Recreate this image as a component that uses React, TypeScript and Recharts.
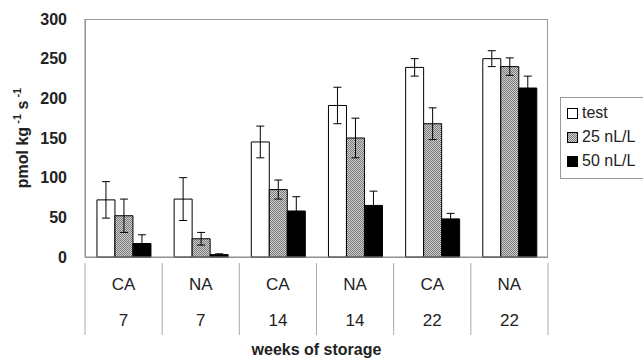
import { BarChart, Bar, XAxis, YAxis, ErrorBar, Legend } from 'recharts';

const conditions = ['CA', 'NA', 'CA', 'NA', 'CA', 'NA'];
const weeks = ['7', '7', '14', '14', '22', '22'];
const testVals = [72, 73, 145, 191, 239, 250];
const testErr = [23, 27, 20, 23, 11, 10];
const nl25Vals = [52, 23, 85, 150, 168, 240];
const nl25Err = [21, 8, 12, 25, 20, 11];
const nl50Vals = [17, 3, 58, 65, 48, 213];
const nl50Err = [11, 1, 18, 18, 7, 15];
const yTicks = [0, 50, 100, 150, 200, 250, 300];

const FONT = '"Liberation Sans", Arial, sans-serif';
const W = 643;
const H = 358;
const LEGEND_W = 92;
const PLOT_RIGHT_GAP = 95; // space right of the plot, legend included
const M = { top: 19, right: PLOT_RIGHT_GAP - LEGEND_W, bottom: 0, left: 35 };
const Y_W = 50;
const X_H = 101;
const PLOT_W = W - M.left - PLOT_RIGHT_GAP - Y_W;
const PLOT_H = H - M.top - M.bottom - X_H;
const AXIS_GRAY = '#8a8a8a';

const data = conditions.map((c, i) => ({
  key: `${c}-${weeks[i]}-${i}`,
  cond: c,
  week: weeks[i],
  test: testVals[i],
  testErr: testErr[i],
  nl25: nl25Vals[i],
  nl25Err: nl25Err[i],
  nl50: nl50Vals[i],
  nl50Err: nl50Err[i],
}));

const legendItems = [
  { label: 'test', fill: '#fff' },
  { label: '25 nL/L', fill: 'url(#lgdots)' },
  { label: '50 nL/L', fill: '#000' },
];

function Dots({ id }: { id: string }) {
  return (
    <pattern id={id} width={2} height={2} patternUnits="userSpaceOnUse">
      <rect width={2} height={2} fill="#cfcfcf" />
      <rect width={1} height={1} fill="#7a7a7a" />
      <rect x={1} y={1} width={1} height={1} fill="#7a7a7a" />
    </pattern>
  );
}

function XTick(props: any) {
  const { x, y, index } = props;
  const half = PLOT_W / conditions.length / 2;
  const d = data[index];
  return (
    <g>
      <line x1={x - half} y1={y} x2={x - half} y2={y + 72} stroke="#aaa" />
      {index === conditions.length - 1 && (
        <line x1={x + half} y1={y} x2={x + half} y2={y + 72} stroke="#aaa" />
      )}
      <text x={x} y={y + 27} textAnchor="middle" fontFamily={FONT} fontSize={17} fill="#222">
        {d.cond}
      </text>
      <text x={x} y={y + 63} textAnchor="middle" fontFamily={FONT} fontSize={17} fill="#222">
        {d.week}
      </text>
    </g>
  );
}

function YLabel() {
  return (
    <text
      transform="translate(28,138) rotate(-90)"
      textAnchor="middle"
      fontFamily={FONT}
      fontSize={16}
      fontWeight="bold"
      fill="#222"
    >
      pmol kg
      <tspan dy={-7} fontSize={11}> -1</tspan>
      <tspan dy={7}> s</tspan>
      <tspan dy={-7} fontSize={11}> -1</tspan>
    </text>
  );
}

function LegendBox() {
  return (
    <div
      style={{
        border: '1px solid #999',
        width: LEGEND_W,
        height: 82,
        boxSizing: 'border-box',
        padding: '3px 0 0 6px',
        fontFamily: FONT,
        fontSize: 16,
        color: '#222',
        background: '#fff',
      }}
    >
      {legendItems.map(it => (
        <div key={it.label} style={{ display: 'flex', alignItems: 'center', height: 24 }}>
          <svg width={11} height={11} style={{ marginRight: 4 }}>
            <defs>
              <Dots id="lgdots" />
            </defs>
            <rect x={0.5} y={0.5} width={10} height={10} fill={it.fill} stroke="#000" />
          </svg>
          {it.label}
        </div>
      ))}
    </div>
  );
}

export default function App() {
  return (
    <div style={{ position: 'absolute', left: 0, top: 0, width: W, height: H, background: '#fff' }}>
      <BarChart width={W} height={H} data={data} margin={M} barCategoryGap="15.5%" barGap={0}>
        <defs>
          <Dots id="dots" />
        </defs>
        {/* plot frame */}
        <rect
          x={M.left + Y_W + 0.5}
          y={M.top + 0.5}
          width={PLOT_W - 1}
          height={PLOT_H}
          fill="none"
          stroke="#999"
        />
        <XAxis
          dataKey="key"
          height={X_H}
          tickLine={false}
          tickMargin={0}
          interval={0}
          stroke={AXIS_GRAY}
          tick={<XTick />}
          label={{
            value: 'weeks of storage',
            position: 'insideBottom',
            offset: 3,
            style: { fontFamily: FONT, fontSize: 16, fontWeight: 'bold', fill: '#222' },
          }}
        />
        <YAxis
          domain={[0, 300]}
          ticks={yTicks}
          width={Y_W}
          tickLine={false}
          tickMargin={12}
          stroke={AXIS_GRAY}
          tick={{ fontFamily: FONT, fontSize: 16, fontWeight: 'bold', fill: '#222' }}
          label={<YLabel />}
        />
        <Legend
          layout="vertical"
          align="right"
          verticalAlign="top"
          wrapperStyle={{ left: 560, top: 97, width: LEGEND_W }}
          content={<LegendBox />}
        />
        <Bar dataKey="test" name="test" fill="#fff" stroke="#000" strokeWidth={1} isAnimationActive={false}>
          <ErrorBar dataKey="testErr" width={4} stroke="#000" strokeWidth={1} direction="y" />
        </Bar>
        <Bar dataKey="nl25" name="25 nL/L" fill="url(#dots)" stroke="#000" strokeWidth={1} isAnimationActive={false}>
          <ErrorBar dataKey="nl25Err" width={4} stroke="#000" strokeWidth={1} direction="y" />
        </Bar>
        <Bar dataKey="nl50" name="50 nL/L" fill="#000" stroke="#000" strokeWidth={1} isAnimationActive={false}>
          <ErrorBar dataKey="nl50Err" width={4} stroke="#000" strokeWidth={1} direction="y" />
        </Bar>
      </BarChart>
    </div>
  );
}
